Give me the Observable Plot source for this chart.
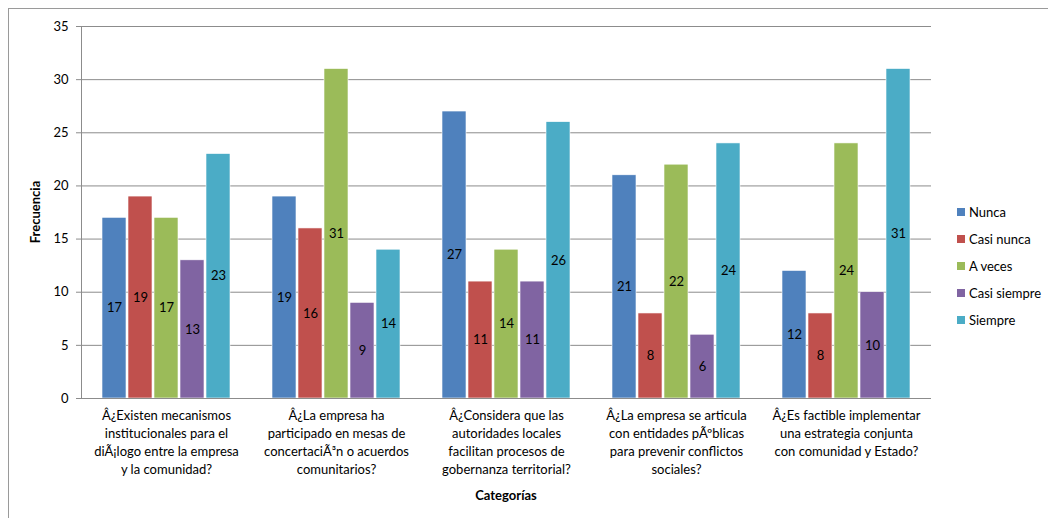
<!DOCTYPE html>
<html>
<head>
<meta charset="utf-8">
<script src="https://cdn.jsdelivr.net/npm/d3@7"></script>
<script src="https://cdn.jsdelivr.net/npm/@observablehq/plot@0.6"></script>
<style>
  html, body { margin: 0; padding: 0; background: #fff; }
  body { width: 1048px; height: 521px; position: relative; overflow: hidden; font-family: Lato, "Open Sans", sans-serif; }
  #border { position: absolute; left: 8px; top: 8px; width: 1100px; height: 510px; border-left: 1px solid #9a9a9a; border-top: 1px solid #9a9a9a; box-sizing: border-box; }
  #chart { position: absolute; left: 0; top: 0; }
  #legend { position: absolute; left: 957px; top: 198px; font-size: 13px; color: #000; }
  .item { height: 27.2px; display: flex; align-items: center; }
  .sw { width: 8px; height: 8px; margin-right: 4px; }
</style>
</head>
<body>
<div id="border"></div>
<div id="chart"></div>
<div id="legend"></div>
<script>
const categories = [
  "Â¿Existen mecanismos\ninstitucionales para el\ndiÃ¡logo entre la empresa\ny la comunidad?",
  "Â¿La empresa ha\nparticipado en mesas de\nconcertaciÃ³n o acuerdos\ncomunitarios?",
  "Â¿Considera que las\nautoridades locales\nfacilitan procesos de\ngobernanza territorial?",
  "Â¿La empresa se articula\ncon entidades pÃºblicas\npara prevenir conflictos\nsociales?",
  "Â¿Es factible implementar\nuna estrategia conjunta\ncon comunidad y Estado?"
];
const series = ["Nunca", "Casi nunca", "A veces", "Casi siempre", "Siempre"];
const colors = ["#4F81BD", "#C0504D", "#9BBB59", "#8064A2", "#4BACC6"];
const nunca = [17, 19, 27, 21, 12];
const casiNunca = [19, 16, 11, 8, 8];
const aVeces = [17, 31, 14, 22, 24];
const casiSiempre = [13, 9, 11, 6, 10];
const siempre = [23, 14, 26, 24, 31];
const yTicks = [0, 5, 10, 15, 20, 25, 30, 35];

const seriesValues = [nunca, casiNunca, aVeces, casiSiempre, siempre];
const data = [];
categories.forEach((c, i) => {
  series.forEach((s, j) => {
    data.push({cat: c, serie: s, value: seriesValues[j][i]});
  });
});

const font = "Lato, 'Open Sans', sans-serif";
const plot = Plot.plot({
  width: 1048,
  height: 521,
  marginLeft: 79,
  marginRight: 116,
  marginTop: 26,
  marginBottom: 123,
  style: {fontFamily: font, fontSize: "13px", color: "#000", background: "transparent"},
  fx: {domain: categories, padding: 0, axis: null},
  x: {domain: series, paddingInner: 0.06, paddingOuter: 0.75, axis: null},
  y: {domain: [0, 35], axis: null},
  color: {domain: series, range: colors},
  marks: [
    Plot.gridY(yTicks, {stroke: "#8c8c8c", strokeOpacity: 1, strokeWidth: 1}),
    Plot.barY(data, {fx: "cat", x: "serie", y: "value", fill: "serie", stroke: "#fff", strokeWidth: 0.6}),
    Plot.text(data, {fx: "cat", x: "serie", y: d => d.value / 2, text: d => String(d.value), fill: "#000", fontSize: 13}),
    Plot.ruleY([0], {stroke: "#8c8c8c"}),
    Plot.axisY(yTicks, {tickSize: 5, tickPadding: 8, stroke: "#8c8c8c", fill: "#000", fontSize: 13, label: null}),
    Plot.axisFx({anchor: "bottom", tickSize: 0, tickPadding: 9, lineHeight: 1.38, fontSize: 13, fill: "#000", label: null, tickFormat: d => d}),
    Plot.frame({anchor: "left", facetAnchor: "left", stroke: "#8c8c8c"})
  ]
});
document.getElementById("chart").appendChild(plot);

const svg = d3.select(plot);
svg.append("text")
  .attr("transform", "translate(37,212) rotate(-90)")
  .attr("text-anchor", "middle")
  .attr("dominant-baseline", "middle")
  .attr("font-weight", "bold")
  .attr("font-size", 13)
  .attr("fill", "#000")
  .text("Frecuencia");
svg.append("text")
  .attr("x", 506)
  .attr("y", 497)
  .attr("text-anchor", "middle")
  .attr("dominant-baseline", "middle")
  .attr("font-weight", "bold")
  .attr("font-size", 13)
  .attr("fill", "#000")
  .text("Categorías");

const legend = document.getElementById("legend");
series.forEach((s, i) => {
  const item = document.createElement("div");
  item.className = "item";
  item.innerHTML = `<span class="sw" style="background:${colors[i]}"></span><span>${s}</span>`;
  legend.appendChild(item);
});
</script>
</body>
</html>
